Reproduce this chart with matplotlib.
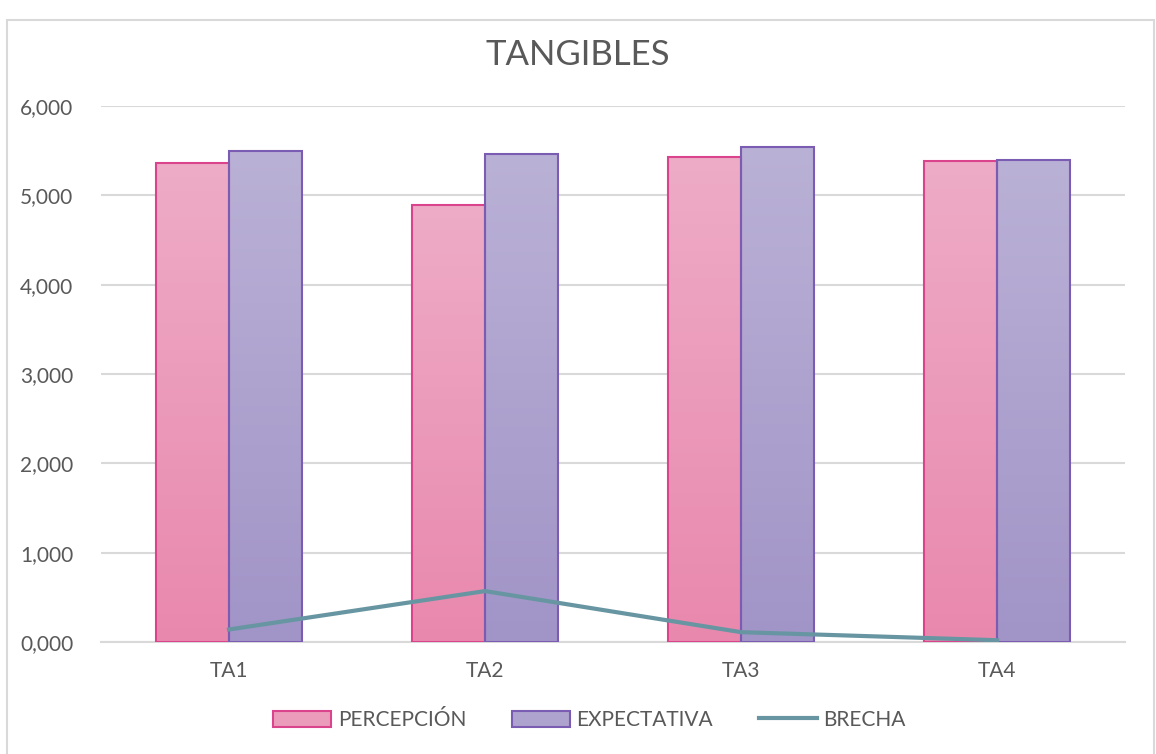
import matplotlib.pyplot as plt
import numpy as np
from matplotlib.patches import Rectangle, Patch
from matplotlib.lines import Line2D
from matplotlib.colors import LinearSegmentedColormap
from matplotlib.ticker import FuncFormatter

plt.rcParams['font.family'] = ['Lato', 'DejaVu Sans']

categories = ['TA1', 'TA2', 'TA3', 'TA4']
percepcion = [5.36, 4.89, 5.43, 5.38]
expectativa = [5.50, 5.46, 5.54, 5.40]
brecha = [0.14, 0.57, 0.11, 0.02]

txt = '#595959'
grid = '#D9D9D9'
pink_top, pink_bot, pink_edge = '#EEACC6', '#E988AD', '#D9448C'
purp_top, purp_bot, purp_edge = '#BAB1D6', '#A194C7', '#7A5DB2'
line_col = '#6796A2'

fig = plt.figure(figsize=(11.56, 7.54), dpi=100)

# chart box border
fig.patches.append(Rectangle((7 / 1156, -0.01), 1147 / 1156, 1 - 20 / 754 + 0.01,
                             transform=fig.transFigure, facecolor='white',
                             edgecolor=grid, linewidth=1.5, zorder=-1))

ax = fig.add_axes([101 / 1156, 1 - 642 / 754, 1024 / 1156, 536 / 754])
ax.set_facecolor('none')

x = np.arange(len(categories))
w = 0.286


def gradient_bars(xs, vals, top, bot, edge):
    cmap = LinearSegmentedColormap.from_list('g', [bot, top])
    grad = np.linspace(0, 1, 256).reshape(-1, 1)
    bars = ax.bar(xs, vals, width=w, color='none', edgecolor=edge,
                  linewidth=1.5, zorder=3)
    for b in bars:
        bx, by = b.get_x(), b.get_y()
        im = ax.imshow(grad, cmap=cmap, origin='lower', aspect='auto',
                       extent=[bx, bx + b.get_width(), by, by + b.get_height()],
                       zorder=2)
        im.set_clip_path(b)
    return bars


gradient_bars(x - w / 2, percepcion, pink_top, pink_bot, pink_edge)
gradient_bars(x + w / 2, expectativa, purp_top, purp_bot, purp_edge)
ax.plot(x, brecha, color=line_col, linewidth=3, zorder=4)

ax.set_xlim(-0.5, 3.5)
ax.set_ylim(0, 6)
ax.set_yticks(np.arange(0, 7, 1))
ax.yaxis.set_major_formatter(FuncFormatter(lambda v, p: f'{v:,.3f}'.replace('.', ',')))
ax.set_xticks(x)
ax.set_xticklabels(categories)
ax.grid(axis='y', color=grid, linewidth=1.5, zorder=0)
ax.set_axisbelow(True)
for s in ['top', 'right', 'left']:
    ax.spines[s].set_visible(False)
ax.spines['bottom'].set_color(grid)
ax.spines['bottom'].set_linewidth(1.5)
ax.tick_params(axis='both', length=0, labelsize=15, colors=txt)
ax.tick_params(axis='y', pad=20)
ax.tick_params(axis='x', pad=14)

fig.text(0.5, 1 - 55 / 754, 'TANGIBLES', ha='center', va='center',
         fontsize=25, color=txt)

handles = [
    Patch(facecolor='#EC9CBB', edgecolor=pink_edge, linewidth=1.5, label='PERCEPCIÓN'),
    Patch(facecolor='#AEA3CE', edgecolor=purp_edge, linewidth=1.5, label='EXPECTATIVA'),
    Line2D([0], [0], color=line_col, linewidth=3, label='BRECHA'),
]
fig.legend(handles=handles, loc='center', bbox_to_anchor=(0.51, 1 - 720 / 754),
           ncol=3, frameon=False, fontsize=15, labelcolor=txt,
           handlelength=2.8, handleheight=0.8, handletextpad=0.3, columnspacing=2.2)

fig.savefig('out.png', dpi=100)
